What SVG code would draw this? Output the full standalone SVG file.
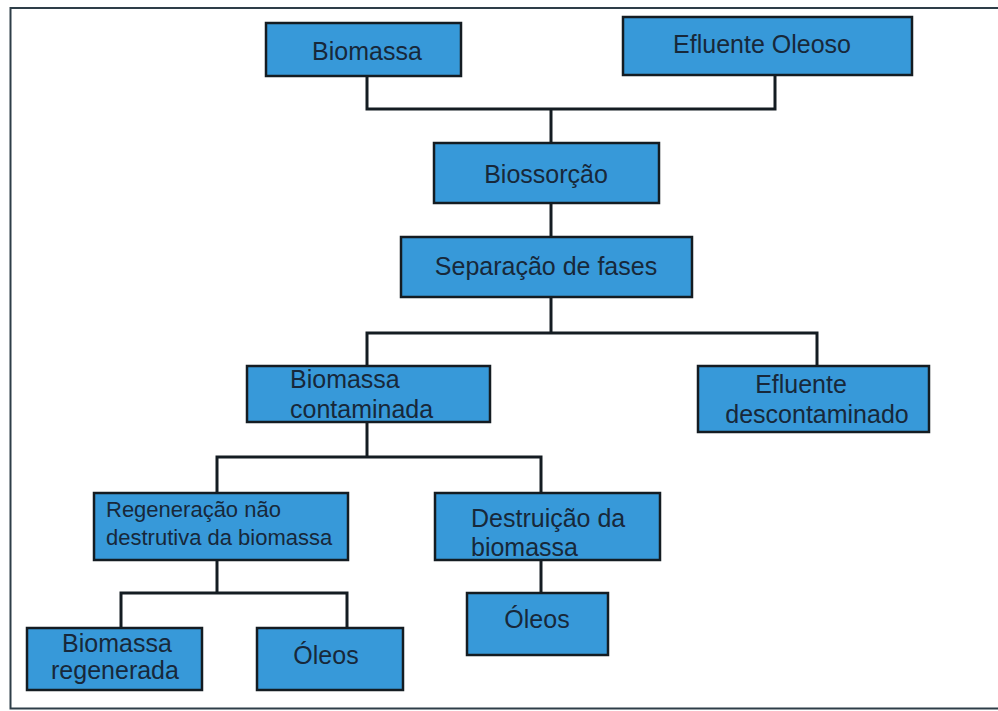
<svg xmlns="http://www.w3.org/2000/svg" width="998" height="711" viewBox="0 0 998 711">
<style>
.box{fill:#3799d9;stroke:#141c22;stroke-width:2.5}
.t{font-family:"Liberation Sans",Arial,sans-serif;font-size:25px;fill:#17283a}
.s{font-size:22px}
.c{text-anchor:middle}
.ln{fill:none;stroke:#141c22;stroke-width:3}
</style>
<rect x="0" y="0" width="998" height="711" fill="#ffffff"/>
<polyline points="1000,8 10.5,8 10.5,708.5 1000,708.5" fill="none" stroke="#2e3e48" stroke-width="2"/>
<g id="connectors">
<polyline class="ln" points="367,76 367,109 775,109 775,75"/>
<line class="ln" x1="551" y1="109" x2="551" y2="143"/>
<line class="ln" x1="551" y1="203" x2="551" y2="237"/>
<polyline class="ln" points="551,297 551,333"/>
<polyline class="ln" points="367,366 367,333 817,333 817,366"/>
<polyline class="ln" points="367,422 367,457"/>
<polyline class="ln" points="217,493 217,457 541,457 541,493"/>
<polyline class="ln" points="217,560 217,593"/>
<polyline class="ln" points="121,628 121,593 347,593 347,628"/>
<line class="ln" x1="541" y1="560" x2="541" y2="593"/>
</g>
<g id="biomassa"><rect class="box" x="266" y="23" width="195" height="53"/><text class="t c" x="367" y="60">Biomassa</text></g>
<g id="efluente-oleoso"><rect class="box" x="623" y="17" width="289" height="58"/><text class="t c" x="762" y="53">Efluente Oleoso</text></g>
<g id="biossorcao"><rect class="box" x="434" y="143" width="225" height="60"/><text class="t c" x="546" y="183">Biossorção</text></g>
<g id="separacao"><rect class="box" x="401" y="237" width="291" height="60"/><text class="t c" x="546" y="275">Separação de fases</text></g>
<g id="biomassa-contaminada"><rect class="box" x="247" y="366" width="243" height="56"/><text class="t" x="290" y="388">Biomassa</text><text class="t" x="290" y="418">contaminada</text></g>
<g id="efluente-descontaminado"><rect class="box" x="698" y="366" width="231" height="66"/><text class="t c" x="801" y="393">Efluente</text><text class="t c" x="817" y="423">descontaminado</text></g>
<g id="regeneracao"><rect class="box" x="94" y="493" width="254" height="67"/><text class="t s" x="106" y="517">Regeneração não</text><text class="t s" x="106" y="545">destrutiva da biomassa</text></g>
<g id="destruicao"><rect class="box" x="435" y="493" width="225" height="67"/><text class="t" x="471" y="527">Destruição da</text><text class="t" x="471" y="556">biomassa</text></g>
<g id="biomassa-regenerada"><rect class="box" x="27" y="628" width="175" height="62"/><text class="t c" x="117" y="652">Biomassa</text><text class="t c" x="115" y="679">regenerada</text></g>
<g id="oleos-1"><rect class="box" x="257" y="628" width="146" height="62"/><text class="t c" x="326" y="664">Óleos</text></g>
<g id="oleos-2"><rect class="box" x="467" y="593" width="141" height="62"/><text class="t c" x="537" y="628">Óleos</text></g>
</svg>
